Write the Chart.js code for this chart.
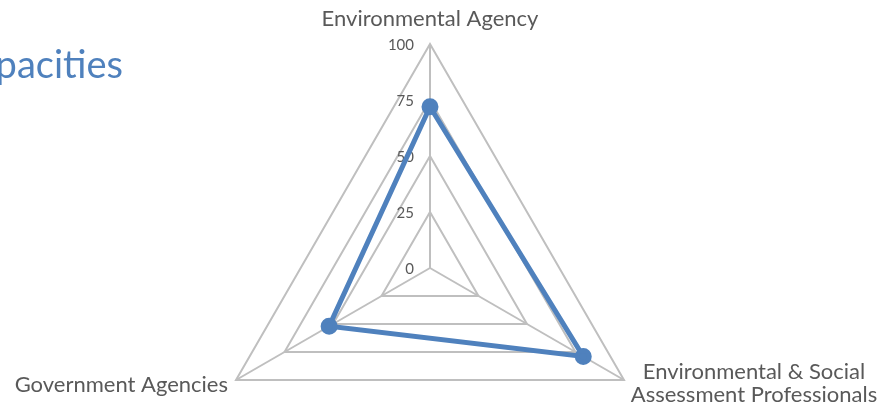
<!DOCTYPE html>
<html>
<head>
<meta charset="utf-8">
<script src="https://cdn.jsdelivr.net/npm/chart.js@4/dist/chart.umd.min.js"></script>
<style>
  html, body { margin: 0; padding: 0; background: #fff; }
  #wrap { width: 886px; height: 410px; position: relative; }
</style>
</head>
<body>
<div id="wrap"><canvas id="radarChart"></canvas></div>
<script>
// 軸ラベルと値
const categories = [
  "Environmental Agency",
  ["Environmental & Social", "Assessment Professionals"],
  "Government Agencies"
];
const capacityValues = [72, 79, 52];
const tickValues = [0, 25, 50, 75, 100];
const titleText = "Capacities";

const blue = "#4f81bd";
const gridGrey = "#bfbfbf";
const textGrey = "#595959";
const fontFamily = "Lato, 'Open Sans', sans-serif";
const radarRadius = 224; // 外側の三角形の大きさ

// 左上のタイトル（左側が切れている）
const titlePlugin = {
  id: "cutTitle",
  afterDraw(chart) {
    const ctx = chart.ctx;
    ctx.save();
    ctx.font = "38px " + fontFamily;
    ctx.fillStyle = blue;
    ctx.textAlign = "right";
    ctx.textBaseline = "middle";
    ctx.fillText(titleText, 123, 66);
    ctx.restore();
  }
};

// 目盛ラベル（軸の左側）と項目ラベル
const labelPlugin = {
  id: "radarLabels",
  beforeDatasetsDraw(chart) {
    const scale = chart.scales.r;
    const ctx = chart.ctx;
    ctx.save();
    ctx.font = "15px " + fontFamily;
    ctx.fillStyle = textGrey;
    ctx.textAlign = "right";
    ctx.textBaseline = "middle";
    tickValues.forEach(v => {
      const p = scale.getPointPositionForValue(0, v);
      ctx.fillText(String(v), p.x - 16, p.y + 1);
    });

    // 項目ラベル: [x方向のずれ, y方向のずれ, 揃え]
    const placement = [[0, -25, "center"], [130, -8, "center"], [-8, 5, "right"]];
    ctx.font = "22px " + fontFamily;
    categories.forEach((lab, i) => {
      const p = scale.getPointPositionForValue(i, 100);
      const lines = Array.isArray(lab) ? lab : [lab];
      const [dx, dy, align] = placement[i];
      ctx.textAlign = align;
      lines.forEach((line, k) => {
        ctx.fillText(line, p.x + dx, p.y + dy + k * 23);
      });
    });
    ctx.restore();
  }
};

const ctx = document.getElementById("radarChart").getContext("2d");
new Chart(ctx, {
  type: "radar",
  data: {
    labels: categories,
    datasets: [{
      data: capacityValues,
      borderColor: blue,
      backgroundColor: "rgba(0,0,0,0)",
      borderWidth: 5,
      pointRadius: 6,
      pointBackgroundColor: blue,
      pointBorderColor: blue,
      fill: false
    }]
  },
  options: {
    responsive: true,
    maintainAspectRatio: false,
    animation: false,
    layout: { padding: { left: 0, right: 26, top: 44, bottom: 0 } },
    plugins: {
      legend: { display: false },
      tooltip: { enabled: false }
    },
    scales: {
      r: {
        min: 0,
        max: 100,
        ticks: { stepSize: 25, display: false },
        grid: { color: gridGrey, lineWidth: 2 },
        angleLines: { color: gridGrey, lineWidth: 2 },
        pointLabels: { display: false },
        // 三角形を下にはみ出させて大きくする
        afterFit(scale) {
          scale.drawingArea = radarRadius;
          scale.yCenter = scale.top + radarRadius;
        }
      }
    }
  },
  plugins: [titlePlugin, labelPlugin]
});
</script>
</body>
</html>
